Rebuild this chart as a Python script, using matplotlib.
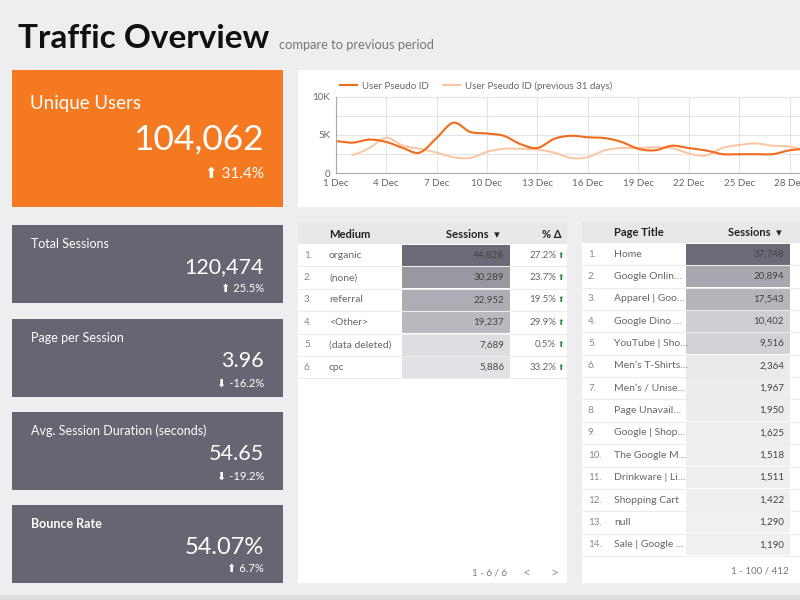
import matplotlib.pyplot as plt
import numpy as np
from matplotlib.patches import Rectangle
from matplotlib.colors import LinearSegmentedColormap, Normalize
from matplotlib.lines import Line2D

plt.rcParams['font.family'] = ['Lato', 'DejaVu Sans']

# ---------------- data ----------------
days = list(range(1, 30))
users_current = [4200, 4000, 4400, 4100, 3300, 2700, 4600, 6600, 5400, 5200,
                 4900, 3800, 3300, 4500, 4900, 4700, 4600, 4100, 3200, 3000,
                 3600, 3300, 3000, 2500, 2500, 2500, 2500, 3000, 3200]
users_previous = [np.nan, 2400, 3300, 4650, 3600, 3200, 2700, 2100, 2000, 2800,
                  3200, 3200, 3100, 2700, 2000, 2100, 3000, 3300, 3300, 3400,
                  3300, 2600, 2300, 3300, 3700, 3900, 3600, 3500, 3000]
tick_days = [1, 4, 7, 10, 13, 16, 19, 22, 25, 28]

unique_users = '104,062'
unique_change = 31.4

kpi_labels = ['Total Sessions', 'Page per Session',
              'Avg. Session Duration (seconds)', 'Bounce Rate']
kpi_values = ['120,474', '3.96', '54.65', '54.07%']
kpi_changes = [25.5, -16.2, -19.2, 6.7]

mediums = ['organic', '(none)', 'referral', '<Other>', '(data deleted)', 'cpc']
medium_sessions = [44828, 30289, 22952, 19237, 7689, 5886]
medium_delta = [27.2, 23.7, 19.5, 29.9, 0.5, 33.2]

pages = ['Home', 'Google Onlin…', 'Apparel | Goo…', 'Google Dino …',
         'YouTube | Sho…', 'Men’s T-Shirts…', 'Men’s / Unise…',
         'Page Unavail…', 'Google | Shop…', 'The Google M…', 'Drinkware | Li…',
         'Shopping Cart', 'null', 'Sale | Google …']
page_sessions = [37748, 20894, 17543, 10402, 9516, 2364, 1967, 1950, 1625,
                 1518, 1511, 1422, 1290, 1190]

# ---------------- colours ----------------
BG = '#eeedf0'
ORANGE = '#f47920'
CARD = '#656672'
LINE_CUR = '#f26a1b'
LINE_PREV = '#fbc5a2'
TXT = '#5a5a5a'
heat = LinearSegmentedColormap.from_list('heat', ['#f4f4f6', '#6a6b77'])


def smooth(x, y, n=12):
    # cubic hermite (catmull-rom) just for drawing the curve
    x = np.asarray(x, float)
    y = np.asarray(y, float)
    ok = ~np.isnan(y)
    x, y = x[ok], y[ok]
    xs, ys = [], []
    t = np.linspace(0, 1, n, endpoint=False)
    for i in range(len(x) - 1):
        y0 = y[i - 1] if i > 0 else y[i]
        y3 = y[i + 2] if i + 2 < len(y) else y[i + 1]
        m1 = (y[i + 1] - y0) / 2
        m2 = (y3 - y[i]) / 2
        h00 = 2 * t**3 - 3 * t**2 + 1
        h10 = t**3 - 2 * t**2 + t
        h01 = -2 * t**3 + 3 * t**2
        h11 = t**3 - t**2
        ys.extend(h00 * y[i] + h10 * m1 + h01 * y[i + 1] + h11 * m2)
        xs.extend(x[i] + t * (x[i + 1] - x[i]))
    xs.append(x[-1])
    ys.append(y[-1])
    return xs, ys


fig = plt.figure(figsize=(8, 6), dpi=100)
fig.patch.set_facecolor(BG)

# canvas in pixel coordinates
cv = fig.add_axes([0, 0, 1, 1])
cv.set_xlim(0, 800)
cv.set_ylim(600, 0)
cv.axis('off')


def box(x0, y0, x1, y1, color, z=1):
    cv.add_patch(Rectangle((x0, y0), x1 - x0, y1 - y0, facecolor=color,
                           edgecolor='none', zorder=z))


def txt(x, y, s, size, color=TXT, ha='left', weight='normal', z=5):
    cv.text(x, y, s, fontsize=size, color=color, ha=ha, va='center',
            fontweight=weight, zorder=z)


# title
txt(18, 39, 'Traffic Overview', 24, '#111111', weight='bold')
txt(279, 45, 'compare to previous period', 9.3, '#777777')

# unique users card
box(12, 70, 283, 207, ORANGE)
txt(30, 103, 'Unique Users', 13.5, 'white')
txt(264, 139, unique_users, 25.5, 'white', ha='right')
arrow = '⬆' if unique_change >= 0 else '⬇'
txt(264, 174, f'{arrow} {unique_change}%', 11, 'white', ha='right')

# kpi cards
card_tops = [225, 319, 412, 505]
for top, lab, val, ch in zip(card_tops, kpi_labels, kpi_values, kpi_changes):
    box(12, top, 283, top + 78, CARD)
    bold = 'bold' if lab == 'Bounce Rate' else 'normal'
    txt(31, top + 19, lab, 9, 'white', weight=bold)
    big = 17 if lab == 'Bounce Rate' else 15.5
    txt(264, top + 42, val, big, 'white', ha='right')
    arrow = '⬆' if ch >= 0 else '⬇'
    txt(264, top + 64, f'{arrow} {ch}%', 8, 'white', ha='right')

# line chart card
box(298, 70, 800, 207, 'white')
ax = fig.add_axes([335.7 / 800, (600 - 173.3) / 600,
                   (840 - 335.7) / 800, (173.3 - 96.7) / 600])
ax.set_facecolor('none')
xc, yc = smooth(days, users_current)
xp, yp = smooth(days, users_previous)
ax.plot(xp, yp, color=LINE_PREV, lw=1.4)
ax.plot(xc, yc, color=LINE_CUR, lw=1.5)
ax.set_xlim(1, 31)
ax.set_ylim(0, 10000)
ax.set_yticks([0, 2500, 5000, 7500, 10000])
ax.set_yticklabels(['0', '', '5K', '', '10K'])
ax.set_xticks(tick_days)
ax.set_xticklabels([f'{d} Dec' for d in tick_days])
ax.tick_params(length=0, labelsize=7, colors='#666666', pad=4)
ax.grid(True, color='#e4e4e4', lw=0.8)
for s in ['top', 'right']:
    ax.spines[s].set_visible(False)
ax.spines['left'].set_color('#aaaaaa')
ax.spines['bottom'].set_color('#aaaaaa')
handles = [Line2D([], [], color=LINE_CUR, lw=1.5),
           Line2D([], [], color=LINE_PREV, lw=1.5)]
fig.legend(handles, ['User Pseudo ID', 'User Pseudo ID (previous 31 days)'],
           loc='center left', bbox_to_anchor=(331 / 800, 1 - 86 / 600),
           ncol=2, frameon=False, fontsize=7, labelcolor='#666666',
           handlelength=1.8, handletextpad=0.5, columnspacing=1.4)

# ---- medium table ----
box(298, 223, 567, 583, 'white')
box(298, 223, 567, 244, '#e8e8eb', z=2)
txt(329, 234, 'Medium', 8, '#222222', weight='bold')
txt(500, 234, 'Sessions  ▾', 8, '#222222', ha='right', weight='bold')
txt(562, 234, '% Δ', 8, '#222222', ha='right', weight='bold')
norm1 = Normalize(0, max(medium_sessions))
rh = 22.4
for i, (m, v, d) in enumerate(zip(mediums, medium_sessions, medium_delta)):
    top = 244 + i * rh
    yc_ = top + rh / 2
    box(402, top + 0.5, 510, top + rh - 0.5, heat(norm1(v)), z=2)
    cv.plot([298, 567], [top + rh, top + rh], color='#ececee', lw=0.8, zorder=3)
    txt(304, yc_, f'{i + 1}.', 7, '#888888')
    txt(329, yc_, m, 7.5, '#666666')
    txt(504, yc_, f'{v:,}', 7, '#444444', ha='right')
    txt(556, yc_, f'{d}%', 7, '#666666', ha='right')
    txt(558, yc_, '⬆' if d >= 0 else '⬇', 5.5, '#2e8b3a')
txt(489, 573, '1 - 6 / 6', 7, '#777777', ha='center')
txt(527, 573, '<', 10, '#999999', ha='center')
txt(554, 573, '>', 10, '#999999', ha='center')

# ---- page title table ----
box(582, 222, 800, 583, 'white')
box(582, 222, 800, 243, '#e8e8eb', z=2)
txt(614, 233, 'Page Title', 8, '#222222', weight='bold')
txt(782, 233, 'Sessions  ▾', 8, '#222222', ha='right', weight='bold')
norm2 = Normalize(0, max(page_sessions))
rh2 = 22.35
for i, (p, v) in enumerate(zip(pages, page_sessions)):
    top = 243 + i * rh2
    yc_ = top + rh2 / 2
    box(686, top + 0.5, 790, top + rh2 - 0.5, heat(norm2(v)), z=2)
    cv.plot([582, 800], [top + rh2, top + rh2], color='#ececee', lw=0.8, zorder=3)
    txt(588, yc_, f'{i + 1}.', 7, '#888888')
    txt(614, yc_, p, 7.5, '#666666')
    txt(784, yc_, f'{v:,}', 7, '#444444', ha='right')
txt(789, 571, '1 - 100 / 412', 7, '#777777', ha='right')

box(0, 595, 800, 600, '#dedde1')

fig.savefig('out.png', dpi=100, facecolor=BG)
